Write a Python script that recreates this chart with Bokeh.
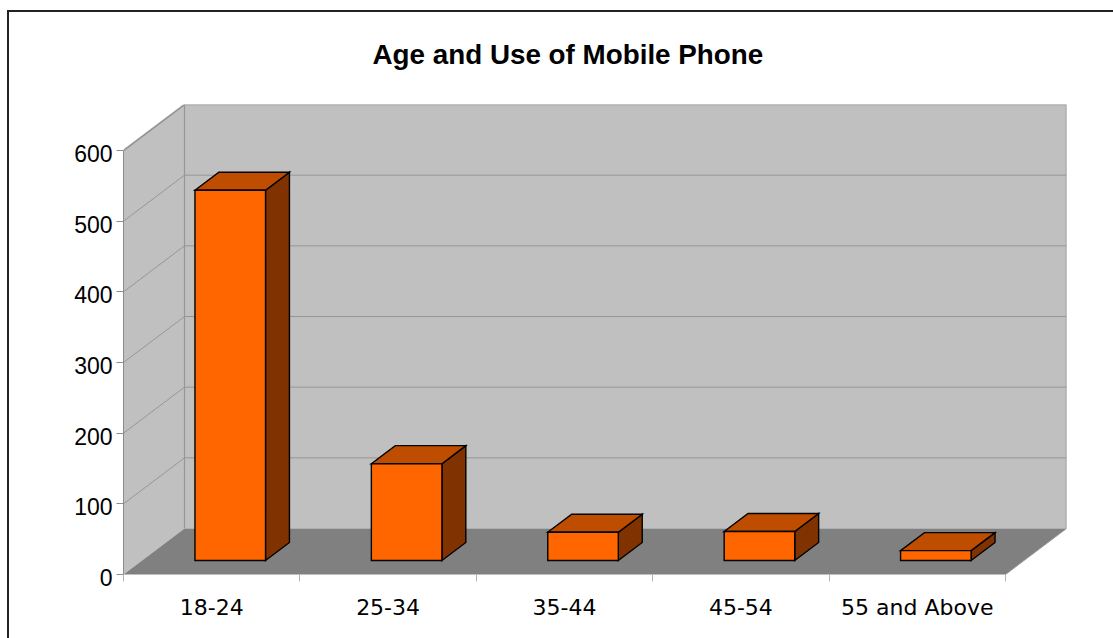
from bokeh.plotting import figure
from bokeh.models import Range1d, FixedTicker, Title, InlineStyleSheet, LinearAxis
from bokeh.embed import file_html
from bokeh.resources import INLINE

categories = ["18-24", "25-34", "35-44", "45-54", "55 and Above"]
values = [524, 137, 40, 41, 14]
y_ticks = [0, 100, 200, 300, 400, 500, 600]
chart_title = "Age and Use of Mobile Phone"

# 3D projection: one full depth unit shifts a point by these data amounts
Y_MAX = 600
N = len(categories)
DX = 61 / 176.4
DY = 46 / 0.7067
BAR_W = 0.40
D0, D1 = 0.304, 0.696
PX = 0.7067  # pixels per value unit
LABEL_SHIFT = 3 / PX  # tick labels sit 3px below their ticks
Y_START = -6 / PX  # the frame runs 6px below value 0, so the shifted "0" label stays in range


def proj(x, v, d):
    return x + DX * d, v + DY * d


def poly(points):
    xs, ys = zip(*[proj(*pt) for pt in points])
    return list(xs), list(ys)


p = figure(
    width=1113, height=638, output_backend="svg", toolbar_location=None,
    x_range=Range1d(0, N + DX), y_range=Range1d(Y_START, Y_MAX + DY),
    min_border_left=123, min_border_right=47, min_border_top=104, min_border_bottom=58,
    background_fill_color="white", border_fill_color="white",
)
p.extra_y_ranges = {"labels": Range1d(Y_START + LABEL_SHIFT, Y_MAX + DY + LABEL_SHIFT)}
p.outline_line_color = None
p.xgrid.visible = False
p.ygrid.visible = False

p.title = Title(
    text=chart_title, align="left", offset=249, standoff=69,
    text_font="Liberation Sans", text_font_size="27.8px", text_font_style="bold", text_color="black",
)

WALL = "#c0c0c0"
FLOOR = "#808080"
EDGE = "#969696"
# back wall, side wall, floor
xs, ys = poly([(0, 0, 1), (N, 0, 1), (N, Y_MAX, 1), (0, Y_MAX, 1)])
p.patch(xs, ys, fill_color=WALL, line_color=None)
xs, ys = poly([(0, 0, 0), (0, 0, 1), (0, Y_MAX, 1), (0, Y_MAX, 0)])
p.patch(xs, ys, fill_color=WALL, line_color=None)
xs, ys = poly([(0, 0, 0), (N, 0, 0), (N, 0, 1), (0, 0, 1)])
p.patch(xs, ys, fill_color=FLOOR, line_color=None)

# gridlines
for t in y_ticks[1:-1]:
    xs, ys = poly([(0, t, 0), (0, t, 1), (N, t, 1)])
    p.line(xs, ys, line_color="#8c8c8c", line_width=0.8)
# wall edges
xs, ys = poly([(0, Y_MAX, 0), (0, Y_MAX, 1), (N, Y_MAX, 1), (N, 0, 1)])
p.line(xs, ys, line_color=EDGE, line_width=1.6, line_join="miter")
xs, ys = poly([(0, Y_MAX, 1), (0, 0, 1)])
p.line(xs, ys, line_color=EDGE, line_width=1.2)
xs, ys = poly([(N, 0, 0), (N, 0, 1)])
p.line(xs, ys, line_color=EDGE, line_width=1)

# bars
FRONT = "#ff6600"
TOP = "#bf4d00"
SIDE = "#803300"
for i, v in enumerate(values):
    l = i + 0.5 - BAR_W / 2
    r = i + 0.5 + BAR_W / 2
    faces = [
        ([(r, 0, D0), (r, 0, D1), (r, v, D1), (r, v, D0)], SIDE),
        ([(l, v, D0), (r, v, D0), (r, v, D1), (l, v, D1)], TOP),
        ([(l, 0, D0), (r, 0, D0), (r, v, D0), (l, v, D0)], FRONT),
    ]
    for pts, c in faces:
        xs, ys = poly(pts)
        p.patch(xs, ys, fill_color=c, line_color="black", line_width=1.4, line_join="miter")

# axes: ticks and line on the main axis, labels on a 3px lower twin
ya = p.yaxis[0]
ya.bounds = (0, Y_MAX)
ya.ticker = FixedTicker(ticks=y_ticks)
ya.major_label_overrides = {t: "" for t in y_ticks}
ya.axis_line_color = "#8c8c8c"
ya.major_tick_line_color = "#8c8c8c"
ya.major_tick_out = 7
ya.major_tick_in = 0
ya.minor_tick_line_color = None
ya.major_label_standoff = 0

yb = LinearAxis(y_range_name="labels", ticker=FixedTicker(ticks=y_ticks))
yb.axis_line_color = None
yb.major_tick_line_color = None
yb.minor_tick_line_color = None
yb.major_tick_out = 0
yb.major_tick_in = 0
yb.major_label_standoff = 4
yb.major_label_text_font = "Liberation Sans"
yb.major_label_text_font_size = "23px"
yb.major_label_text_color = "black"
p.add_layout(yb, "left")

xa = p.xaxis[0]
xa.bounds = (0, N)
centers = [i + 0.5 for i in range(N)]
xa.ticker = FixedTicker(ticks=centers, minor_ticks=list(range(N + 1)))
xa.major_label_overrides = {c: s for c, s in zip(centers, categories)}
xa.axis_line_color = None
xa.major_tick_line_color = None
xa.minor_tick_line_color = "#b4b4b4"
xa.minor_tick_out = 1
xa.minor_tick_in = 6
xa.major_label_standoff = 8
xa.major_label_text_font = "DejaVu Sans"
xa.major_label_text_font_size = "22px"
xa.major_label_text_color = "black"

# outer frame, running off the bottom and right of the page
p.stylesheets = [InlineStyleSheet(css=(
    ":host::after{content:'';position:absolute;left:7px;top:10px;right:0;bottom:0;"
    "border-left:2px solid #222;border-top:2px solid #222;pointer-events:none;z-index:5;}"
))]

open("out.html", "w").write(file_html(p, INLINE))
